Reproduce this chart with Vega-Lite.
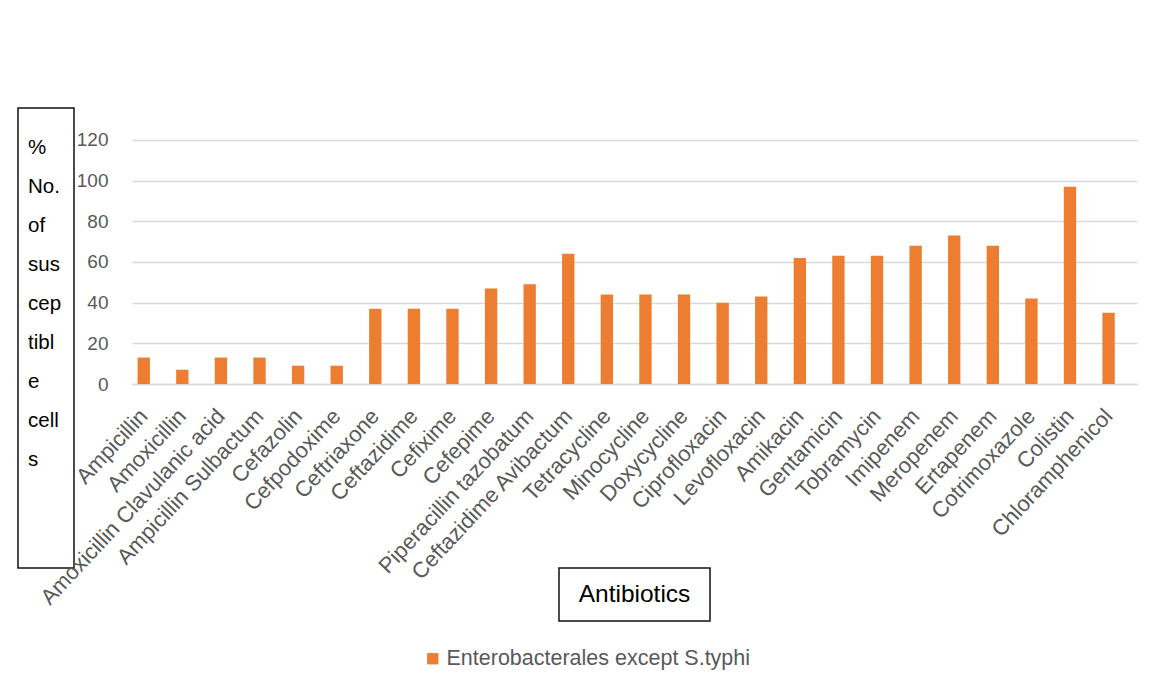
{
  "$schema": "https://vega.github.io/schema/vega-lite/v6.json",
  "background": "white",
  "padding": {"left": 17, "top": 107, "right": 5, "bottom": 5},
  "config": {
    "font": "Liberation Sans",
    "view": {"stroke": null}
  },
  "bounds": "flush",
  "spacing": 58,
  "hconcat": [
    {
      "width": 56,
      "height": 460,
      "view": {"stroke": "#111111", "strokeWidth": 1.5},
      "data": {"values": [{}]},
      "mark": {
        "type": "text",
        "text": ["%", "No.", "of", "sus", "cep", "tibl", "e", "cell", "s"],
        "align": "left",
        "baseline": "middle",
        "dx": -18,
        "dy": -190.5,
        "lineHeight": 39.1,
        "fontSize": 20.5,
        "color": "#000000"
      },
      "encoding": {}
    },
    {
      "bounds": "flush",
      "center": true,
      "spacing": 184,
      "vconcat": [
        {
          "width": 1005,
          "height": 276,
          "data": {
            "values": [
              {"antibiotic": "Ampicillin", "pct": 13, "series": "Enterobacterales except S.typhi"},
              {"antibiotic": "Amoxicillin", "pct": 7, "series": "Enterobacterales except S.typhi"},
              {"antibiotic": "Amoxicillin Clavulanic acid", "pct": 13, "series": "Enterobacterales except S.typhi"},
              {"antibiotic": "Ampicillin Sulbactum", "pct": 13, "series": "Enterobacterales except S.typhi"},
              {"antibiotic": "Cefazolin", "pct": 9, "series": "Enterobacterales except S.typhi"},
              {"antibiotic": "Cefpodoxime", "pct": 9, "series": "Enterobacterales except S.typhi"},
              {"antibiotic": "Ceftriaxone", "pct": 37, "series": "Enterobacterales except S.typhi"},
              {"antibiotic": "Ceftazidime", "pct": 37, "series": "Enterobacterales except S.typhi"},
              {"antibiotic": "Cefixime", "pct": 37, "series": "Enterobacterales except S.typhi"},
              {"antibiotic": "Cefepime", "pct": 47, "series": "Enterobacterales except S.typhi"},
              {"antibiotic": "Piperacillin tazobatum", "pct": 49, "series": "Enterobacterales except S.typhi"},
              {"antibiotic": "Ceftazidime Avibactum", "pct": 64, "series": "Enterobacterales except S.typhi"},
              {"antibiotic": "Tetracycline", "pct": 44, "series": "Enterobacterales except S.typhi"},
              {"antibiotic": "Minocycline", "pct": 44, "series": "Enterobacterales except S.typhi"},
              {"antibiotic": "Doxycycline", "pct": 44, "series": "Enterobacterales except S.typhi"},
              {"antibiotic": "Ciprofloxacin", "pct": 40, "series": "Enterobacterales except S.typhi"},
              {"antibiotic": "Levofloxacin", "pct": 43, "series": "Enterobacterales except S.typhi"},
              {"antibiotic": "Amikacin", "pct": 62, "series": "Enterobacterales except S.typhi"},
              {"antibiotic": "Gentamicin", "pct": 63, "series": "Enterobacterales except S.typhi"},
              {"antibiotic": "Tobramycin", "pct": 63, "series": "Enterobacterales except S.typhi"},
              {"antibiotic": "Imipenem", "pct": 68, "series": "Enterobacterales except S.typhi"},
              {"antibiotic": "Meropenem", "pct": 73, "series": "Enterobacterales except S.typhi"},
              {"antibiotic": "Ertapenem", "pct": 68, "series": "Enterobacterales except S.typhi"},
              {"antibiotic": "Cotrimoxazole", "pct": 42, "series": "Enterobacterales except S.typhi"},
              {"antibiotic": "Colistin", "pct": 97, "series": "Enterobacterales except S.typhi"},
              {"antibiotic": "Chloramphenicol", "pct": 35, "series": "Enterobacterales except S.typhi"}
            ]
          },
          "mark": {"type": "bar"},
          "encoding": {
            "x": {
              "field": "antibiotic",
              "type": "nominal",
              "sort": null,
              "scale": {"paddingInner": 0.68, "paddingOuter": 0.36, "align": 0.2},
              "axis": {
                "title": null,
                "labelAngle": -47,
                "labelFontSize": 22,
                "labelColor": "#595959",
                "labelLimit": 400,
                "labelOverlap": false,
                "ticks": false,
                "labelPadding": 28,
                "domainColor": "#D9D9D9",
                "domainWidth": 1.3
              }
            },
            "y": {
              "field": "pct",
              "type": "quantitative",
              "scale": {"domain": [0, 135.7], "nice": false},
              "axis": {
                "title": null,
                "values": [0, 20, 40, 60, 80, 100, 120],
                "domain": false,
                "ticks": false,
                "grid": true,
                "gridColor": "#D9D9D9",
                "gridWidth": 1.3,
                "labelPadding": 24,
                "labelFontSize": 19,
                "labelColor": "#595959"
              }
            },
            "color": {
              "field": "series",
              "type": "nominal",
              "scale": {"range": ["#ED7D31"]},
              "legend": {
                "title": null,
                "orient": "none",
                "legendX": 404,
                "legendY": 540,
                "symbolType": "square",
                "symbolSize": 128,
                "symbolStrokeWidth": 0,
                "labelFontSize": 21.5,
                "labelLimit": 600,
                "labelColor": "#595959",
                "labelOffset": 3
              }
            }
          }
        },
        {
          "width": 151,
          "height": 53,
          "view": {"stroke": "#111111", "strokeWidth": 1.5},
          "data": {"values": [{}]},
          "mark": {
            "type": "text",
            "text": "Antibiotics",
            "align": "center",
            "baseline": "middle",
            "fontSize": 24.5,
            "color": "#000000"
          },
          "encoding": {}
        }
      ]
    }
  ]
}
